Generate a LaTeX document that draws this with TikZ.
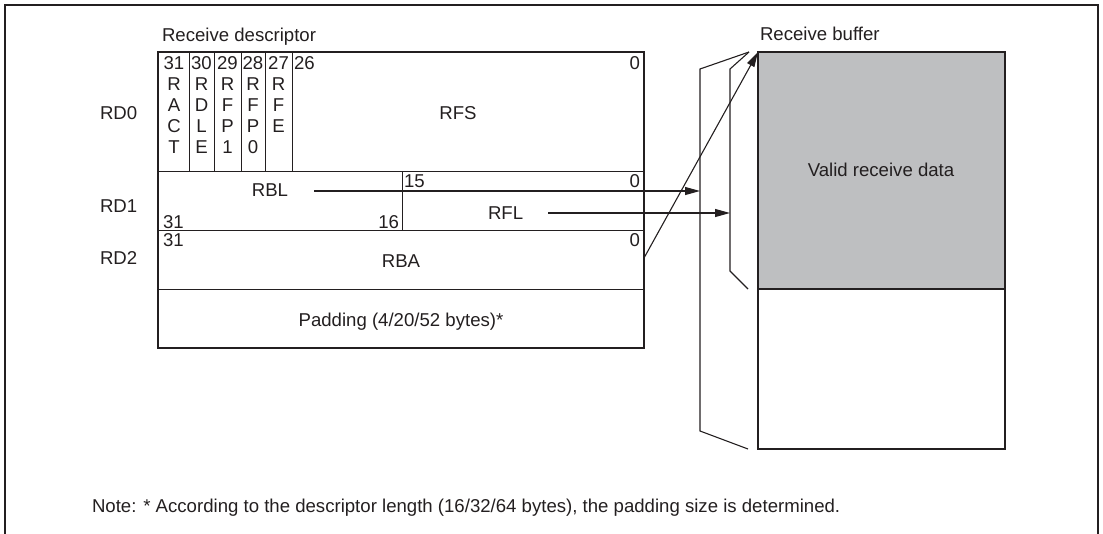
\documentclass[tikz,border=0pt]{standalone}
\usepackage{fontspec}
\setmainfont{Liberation Sans}
\usetikzlibrary{arrows.meta}
\definecolor{ink}{RGB}{35,31,32}
\definecolor{bufgray}{RGB}{190,191,193}
\begin{document}
\begin{tikzpicture}[x=1pt,y=-1pt,
  every node/.style={inner sep=0pt, outer sep=0pt, text=ink, font=\fontsize{18.6}{22}\selectfont},
  tc/.style={anchor=base},
  tw/.style={anchor=base west},
  te/.style={anchor=base east},
  rulethin/.style={draw=ink, line width=1pt},
  rulethick/.style={draw=ink, line width=2.2pt, line join=miter},
  brk/.style={draw=ink, line width=1.1pt, line join=miter},
  arr/.style={draw=ink, line width=1.1pt, -{Triangle[length=15pt,width=8pt]}}]
\useasboundingbox (0,0) rectangle (1103,533);
% outer frame
\draw[ink, line width=2.5pt, line join=miter] (5,545) -- (5,5) -- (1098,5) -- (1098,545);

% titles
\node[tw] (tdesc) at (162,41.5) {Receive descriptor};
\node[tw] (tbuf) at (760,40) {Receive buffer};
\node[tw] (rd0) at (100,119.5) {RD0};
\node[tw] (rd1) at (100,212.5) {RD1};
\node[tw] (rd2) at (100,264.5) {RD2};

% descriptor grid
\draw[rulethin] (158,171) -- (644,171);
\draw[rulethin] (158,230) -- (644,230);
\draw[rulethin] (158,289) -- (644,289);
\foreach \xx in {189,214,241,265,292} \draw[rulethin] (\xx,52) -- (\xx,171);
\draw[rulethin] (402,171) -- (402,230);
\draw[rulethick] (158,52) rectangle (644,348);

% bit columns
\node[tc] (b31) at (174,69.5) {31};
\node[tc] (b30) at (201.5,69.5) {30};
\node[tc] (b29) at (227.5,69.5) {29};
\node[tc] (b28) at (253,69.5) {28};
\node[tc] (b27) at (278.5,69.5) {27};
\node[tw] (b26) at (294,69.5) {26};
\node[te] (b0a) at (640,69.5) {0};
\foreach \c/\xx/\la/\lb/\lc/\ld in {1/174/R/A/C/T, 2/201.5/R/D/L/E, 3/227.5/R/F/P/1, 4/253/R/F/P/0}{
  \node[tc] (c\c a) at (\xx,90.5) {\la};
  \node[tc] (c\c b) at (\xx,111.5) {\lb};
  \node[tc] (c\c c) at (\xx,132.5) {\lc};
  \node[tc] (c\c d) at (\xx,153.5) {\ld};
}
\node[tc] (c5a) at (278.5,90.5) {R};
\node[tc] (c5b) at (278.5,111.5) {F};
\node[tc] (c5c) at (278.5,132.5) {E};
\node[tc] (rfs) at (458,119.5) {RFS};

% RD1
\node[tc] (rbl) at (270,196.5) {RBL};
\node[tw] (b15) at (404,187.5) {15};
\node[te] (b0b) at (640,187.5) {0};
\node[tw] (b31b) at (163,228) {31};
\node[te] (b16) at (399,228) {16};
\node[tw] (rfl) at (488,219.5) {RFL};

% RD2
\node[tw] (b31c) at (163,246.5) {31};
\node[te] (b0c) at (640,246.5) {0};
\node[tc] (rba) at (401,267.5) {RBA};
\node[tc] (pad) at (401,326.5) {Padding (4/20/52 bytes)*};

% buffer
\fill[bufgray] (758,52) rectangle (1005,289);
\draw[rulethick] (758,52) rectangle (1005,449);
\draw[rulethick] (758,289) -- (1005,289);
\node[tc] (valid) at (881,176.5) {Valid receive data};

% brackets
\coordinate (tip) at (749,52);
\coordinate (outerT) at (700,69);
\coordinate (outerB) at (700,431);
\coordinate (innerT) at (730,69);
\coordinate (innerB) at (730,271);
\draw[brk] (tip) -- (outerT) -- (outerB) -- (748,449);
\draw[brk] (tip) -- (innerT) -- (innerB) -- (748,289);

% arrows
\coordinate (rblS) at (314,191);
\coordinate (rblE) at (700,191);
\coordinate (rflS) at (548,213);
\coordinate (rflE) at (730,213);
\coordinate (rbaS) at (644,258);
\coordinate (rbaE) at (758,52);
\draw[arr] (rblS) -- (rblE);
\draw[arr] (rflS) -- (rflE);
\draw[arr] (rbaS) -- (rbaE);

% note
\node[tw] (note) at (92,512) {Note: * According to the descriptor length (16/32/64 bytes), the padding size is determined.};
\end{tikzpicture}
\end{document}
